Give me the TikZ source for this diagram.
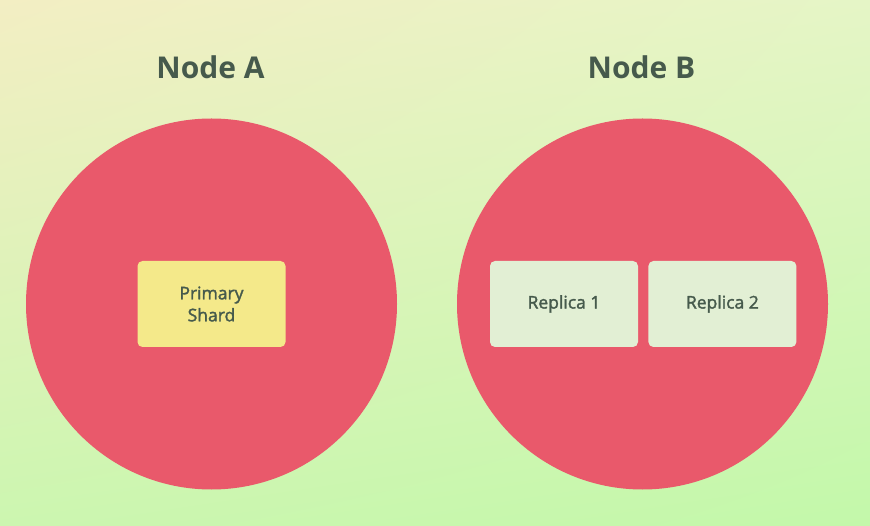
\documentclass[tikz,border=0pt]{standalone}
\usepackage{fontspec}
\setmainfont{Open Sans}
\newfontfamily\boxfont{Open Sans}[FakeBold=1.8]
\usepackage{tikz}
\usetikzlibrary{math,positioning,shadings}

\definecolor{bgtl}{HTML}{F3EEC3}
\definecolor{bgtr}{HTML}{E5F5C6}
\definecolor{bgbl}{HTML}{CCF6B0}
\definecolor{bgbr}{HTML}{C3F8AA}
\definecolor{nodered}{HTML}{E9596B}
\definecolor{shardyellow}{HTML}{F4E98A}
\definecolor{replicagreen}{HTML}{E2EFD4}
\definecolor{inktext}{HTML}{465A4C}

\tikzset{
  title/.style={font=\fontsize{30}{34}\selectfont\bfseries, text=inktext},
  shardbox/.style={rounded corners=5pt, minimum width=148pt, minimum height=86pt,
    align=center, text=inktext, font=\boxfont\fontsize{17.5}{22}\selectfont},
}

\begin{document}
\begin{tikzpicture}[x=1pt, y=-1pt]
  \tikzmath{\r = 185.5; \ya = 304;}
  \useasboundingbox (0, 0) rectangle (870, 526);
  \shade[upper left=bgtl, upper right=bgtr, lower left=bgbl, lower right=bgbr] (0, 0) rectangle (870, 526);

  \fill[nodered] (211.5, \ya) circle (\r);
  \fill[nodered] (642.5, \ya) circle (\r);
  \node[title] (titleA) at (210.5, 67) {Node A};
  \node[title] (titleB) at (641.5, 67) {Node B};

  \node[shardbox, fill=shardyellow] (primary) at (211.5, \ya) {Primary\\Shard};
  \node[shardbox, fill=replicagreen] (replica1) at (564, \ya) {Replica 1};
  \node[shardbox, fill=replicagreen, right=10pt of replica1] (replica2) {Replica 2};
\end{tikzpicture}
\end{document}
